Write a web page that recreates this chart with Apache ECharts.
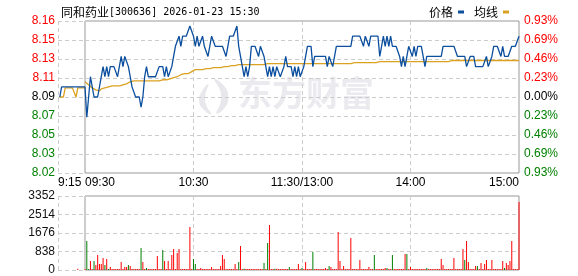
<!DOCTYPE html>
<html><head><meta charset="utf-8">
<script src="https://cdn.jsdelivr.net/npm/echarts@6/dist/echarts.min.js"></script>
<style>html,body{margin:0;padding:0;background:#fff}#c{width:578px;height:276px}</style>
</head><body><div id="c"></div>
<script>
// ---- data ----
const stockName = '同和药业';
const stockInfo = '[300636] 2026-01-23 15:30';
const seriesNames = ['价格', '均线'];
const priceTickLabels = ['8.02','8.03','8.05','8.07','8.09','8.11','8.13','8.15','8.16'];
const pctTickLabels = ['0.93%','0.69%','0.46%','0.23%','0.00%','0.23%','0.46%','0.69%','0.93%'];
const volTickLabels = ['0','838','1676','2514','3352'];
const timeTickLabels = ['09:30','10:30','11:30/13:00','14:00','15:00'];
const preTimeLabel = '9:15';
const watermarkText = '东方财富';

// pre-market 9:16 .. 9:30 (minute 1..15 after 9:15)
const prePrice = [8.09,8.10,8.10,8.10,8.10,8.10,8.10,8.10,8.10,8.10,8.10,8.10,8.10,8.10,8.10];
const preAvg   = [8.09,8.09,8.09,8.099,8.099,8.099,8.099,8.099,8.099,8.09,8.099,8.099,8.099,8.099,8.099];
const preVol   = [0,0,0,0,0,0,0,0,0,0,60,0,0,0,0];

// trading minutes 0..240 (09:30 .. 15:00, lunch removed)
const price = [
8.10,8.07,8.09,8.11,8.11,8.09,8.09,8.09,8.09,8.11,
8.12,8.11,8.12,8.11,8.12,8.12,8.12,8.12,8.11,8.12,
8.13,8.12,8.13,8.13,8.12,8.11,8.10,8.10,8.09,8.09,
8.09,8.08,8.09,8.11,8.12,8.11,8.11,8.11,8.11,8.11,
8.11,8.12,8.12,8.12,8.11,8.12,8.11,8.11,8.12,8.13,
8.14,8.14,8.15,8.14,8.15,8.15,8.15,8.15,8.16,8.16,
8.15,8.14,8.15,8.14,8.14,8.15,8.14,8.14,8.13,8.14,
8.15,8.15,8.14,8.14,8.14,8.14,8.14,8.14,8.13,8.14,
8.15,8.15,8.15,8.15,8.16,8.14,8.13,8.12,8.11,8.12,
8.11,8.12,8.14,8.14,8.14,8.14,8.13,8.14,8.14,8.13,
8.12,8.11,8.12,8.11,8.12,8.11,8.12,8.12,8.11,8.11,
8.12,8.13,8.12,8.12,8.12,8.11,8.12,8.11,8.12,8.11,
8.11,8.12,8.13,8.14,8.14,8.14,8.12,8.13,8.13,8.13,
8.13,8.13,8.13,8.13,8.12,8.13,8.13,8.12,8.13,8.14,
8.14,8.14,8.14,8.14,8.14,8.14,8.14,8.14,8.15,8.15,
8.15,8.15,8.15,8.15,8.14,8.15,8.15,8.14,8.15,8.15,
8.15,8.15,8.15,8.13,8.14,8.15,8.14,8.15,8.14,8.15,
8.14,8.14,8.14,8.14,8.13,8.12,8.13,8.12,8.13,8.14,
8.14,8.13,8.14,8.13,8.14,8.14,8.14,8.13,8.12,8.13,
8.13,8.13,8.13,8.13,8.13,8.13,8.13,8.13,8.14,8.14,
8.14,8.14,8.14,8.14,8.14,8.14,8.13,8.13,8.13,8.13,
8.13,8.12,8.12,8.13,8.13,8.13,8.12,8.12,8.12,8.12,
8.12,8.12,8.13,8.12,8.12,8.13,8.14,8.14,8.14,8.14,
8.13,8.14,8.13,8.13,8.13,8.13,8.14,8.14,8.14,8.14,
8.15];
const avgPrice = [
8.105,8.104,8.102,8.101,8.099,8.098,8.097,8.096,8.096,8.098,
8.099,8.099,8.100,8.100,8.101,8.101,8.101,8.101,8.101,8.101,
8.102,8.102,8.103,8.103,8.104,8.105,8.106,8.106,8.106,8.106,
8.106,8.106,8.106,8.106,8.106,8.106,8.106,8.106,8.106,8.106,
8.106,8.106,8.107,8.107,8.107,8.107,8.108,8.108,8.108,8.109,
8.109,8.110,8.111,8.112,8.113,8.113,8.113,8.113,8.114,8.115,
8.116,8.117,8.117,8.117,8.117,8.117,8.118,8.118,8.118,8.118,
8.118,8.119,8.119,8.119,8.119,8.119,8.120,8.120,8.120,8.120,
8.120,8.121,8.121,8.121,8.122,8.122,8.122,8.122,8.122,8.122,
8.122,8.122,8.122,8.122,8.122,8.122,8.122,8.122,8.122,8.122,
8.123,8.123,8.123,8.123,8.123,8.123,8.123,8.123,8.123,8.123,
8.123,8.123,8.123,8.123,8.123,8.123,8.123,8.123,8.123,8.123,
8.123,8.123,8.123,8.123,8.123,8.123,8.123,8.123,8.123,8.123,
8.123,8.123,8.123,8.123,8.123,8.123,8.123,8.123,8.123,8.123,
8.123,8.123,8.123,8.123,8.123,8.123,8.123,8.123,8.123,8.124,
8.124,8.124,8.124,8.124,8.124,8.124,8.124,8.124,8.124,8.124,
8.124,8.124,8.124,8.125,8.125,8.125,8.125,8.125,8.125,8.125,
8.125,8.125,8.125,8.125,8.125,8.125,8.125,8.125,8.125,8.125,
8.125,8.125,8.125,8.125,8.125,8.125,8.125,8.125,8.125,8.125,
8.125,8.125,8.125,8.125,8.125,8.125,8.125,8.125,8.125,8.125,
8.125,8.125,8.125,8.126,8.126,8.126,8.126,8.126,8.126,8.126,
8.126,8.126,8.126,8.126,8.126,8.126,8.126,8.126,8.126,8.126,
8.126,8.126,8.126,8.126,8.126,8.126,8.126,8.126,8.126,8.126,
8.126,8.126,8.126,8.126,8.126,8.126,8.126,8.126,8.126,8.126,
8.126];
const volume = [
40,1314,40,408,40,408,226,680,272,272,
544,226,498,45,136,40,40,40,40,40,
362,40,136,136,226,181,40,40,40,40,
40,997,362,40,90,40,40,40,40,40,
634,40,40,906,408,40,408,40,680,951,
40,770,951,40,40,40,40,40,1948,40,
498,272,40,40,90,40,40,40,40,40,
136,40,40,40,40,181,680,498,40,40,
40,40,40,272,40,362,1087,40,60,40,
40,40,40,40,40,40,40,40,40,317,
40,1223,2039,40,40,60,60,40,40,40,
40,40,40,136,40,40,40,40,272,40,
90,40,362,40,40,40,815,40,40,40,
40,40,40,90,40,181,136,40,40,40,
1721,408,40,181,40,40,40,1450,40,40,
40,40,453,40,40,40,40,136,40,40,
680,40,40,40,40,40,90,90,40,40,
680,40,40,40,40,40,40,725,725,40,
136,40,40,40,40,40,40,40,40,90,
40,40,40,40,40,40,40,498,226,40,
40,40,40,40,544,40,40,40,40,951,
453,1314,362,40,40,40,181,181,40,317,
40,272,453,40,40,453,40,40,40,40,
40,408,90,317,226,408,1314,40,40,40,
3080];
const downMinutes = [1,2,5,11,13,24,31,34,43,60,61,85,88,99,101,105,113,120,126,135,160,167,170,178,189,210,217,232];

// ---- chart ----
const BLUE = '#0b4f9e', GOLD = '#dba222', RED = '#ff0000', GREEN = '#008000';
const FONT = 'Liberation Sans';
const pMin = 8.015, pMax = 8.165, pInt = 0.01875;
const vMax = 3352, vInt = 838;
const split = {show:true, lineStyle:{color:'#cccccc', type:[4,3], width:1}};
function tickIdx(v, min, step){ return Math.round((v - min) / step); }
function sideColor(i){ return i < 4 ? 'g' : (i === 4 ? 'k' : 'r'); }
const richLab = {
  r:{color:RED, fontSize:12, fontFamily:FONT},
  g:{color:GREEN, fontSize:12, fontFamily:FONT},
  k:{color:'#000', fontSize:12, fontFamily:FONT}
};

const chart = echarts.init(document.getElementById('c'), null, {renderer:'canvas'});
chart.setOption({
  animation:false,
  backgroundColor:'#fff',
  title:{
    text:'{a|' + stockName + '}{b|' + stockInfo + '}',
    left:56, top:1,
    textStyle:{fontWeight:'normal', rich:{
      a:{fontFamily:'Noto Sans CJK SC', fontSize:12, color:'#000', fontWeight:'normal'},
      b:{fontFamily:'DejaVu Sans Mono', fontSize:10, color:'#000', fontWeight:'normal'}
    }}
  },
  legend:{
    data:seriesNames, right:64, top:1, icon:'rect', itemWidth:6, itemHeight:3,
    align:'right', itemGap:10,
    textStyle:{fontFamily:'Noto Sans CJK SC', fontSize:12, color:'#000', padding:[0,0,0,0]}
  },
  graphic:[
    {type:'group', left:199, top:79, z:-10, silent:true, children:[
      {type:'polygon', silent:true, shape:{smooth:0.5, points:[[17,0],[27,7],[31,18],[27,29],[19,34],[23,24],[23,12]]}, style:{fill:'#e8e8ec'}},
      {type:'polygon', silent:true, shape:{smooth:0.5, points:[[11,5],[4,13],[2,23],[7,31],[14,35],[9,26],[8,16]]}, style:{fill:'#e8e8ec'}}
    ]},
    {type:'text', left:238, top:76, z:-10, silent:true,
     style:{text:watermarkText, fontSize:34, fontWeight:'bold', fontFamily:'Noto Sans CJK SC', fill:'#ebebef'}}
  ],
  grid:[
    {left:58, top:21, width:27, height:152},
    {left:85, right:59, top:21, height:152, show:true, borderColor:'#999', borderWidth:1},
    {left:58, top:196, width:27, height:74},
    {left:85, right:59, top:196, height:74, show:true, borderColor:'#999', borderWidth:1}
  ],
  xAxis:[
    {gridIndex:0, type:'value', min:0, max:15, interval:15,
     axisLine:{show:false}, axisTick:{show:false}, splitLine:split,
     axisLabel:{show:true, margin:4, color:'#000', fontSize:12, fontFamily:FONT, alignMinLabel:'left',
       formatter:(v)=> v === 0 ? preTimeLabel : ''}},
    {gridIndex:1, type:'value', min:0, max:240, interval:60,
     axisLine:{show:false}, axisTick:{show:false}, splitLine:split,
     axisLabel:{show:true, margin:4, color:'#000', fontSize:12, fontFamily:FONT,
       alignMinLabel:'left', alignMaxLabel:'right', showMinLabel:true, showMaxLabel:true,
       formatter:(v)=> timeTickLabels[Math.round(v/60)]}},
    {gridIndex:2, type:'value', min:0, max:15, interval:15,
     axisLine:{show:false}, axisTick:{show:false}, splitLine:split, axisLabel:{show:false}},
    {gridIndex:3, type:'value', min:0, max:240, interval:60,
     axisLine:{show:false}, axisTick:{show:false}, splitLine:split, axisLabel:{show:false}}
  ],
  yAxis:[
    {gridIndex:0, type:'value', min:pMin, max:pMax, interval:pInt, position:'left',
     axisLine:{show:false}, axisTick:{show:false}, splitLine:split,
     axisLabel:{margin:3, rich:richLab,
       formatter:(v)=>{const i=tickIdx(v,pMin,pInt); return '{'+sideColor(i)+'|'+priceTickLabels[i]+'}';}}},
    {gridIndex:1, type:'value', min:pMin, max:pMax, interval:pInt, position:'right',
     axisLine:{show:false}, axisTick:{show:false}, splitLine:split,
     axisLabel:{margin:5, rich:richLab,
       formatter:(v)=>{const i=tickIdx(v,pMin,pInt); return '{'+sideColor(i)+'|'+pctTickLabels[i]+'}';}}},
    {gridIndex:2, type:'value', min:0, max:vMax, interval:vInt, position:'left',
     axisLine:{show:false}, axisTick:{show:false}, splitLine:split,
     axisLabel:{margin:3, color:'#111', fontSize:12, fontFamily:FONT,
       formatter:(v)=> volTickLabels[tickIdx(v,0,vInt)]}},
    {gridIndex:3, type:'value', min:0, max:vMax, interval:vInt, position:'right',
     axisLine:{show:false}, axisTick:{show:false}, splitLine:split, axisLabel:{show:false}}
  ],
  series:[
    {name:seriesNames[0], type:'line', xAxisIndex:0, yAxisIndex:0, symbol:'none', z:3,
     data:prePrice.map((v,i)=>[i+1,v]), lineStyle:{color:BLUE, width:1.3}, itemStyle:{color:BLUE}},
    {name:seriesNames[1], type:'line', xAxisIndex:0, yAxisIndex:0, symbol:'none', z:2,
     data:preAvg.map((v,i)=>[i+1,v]), lineStyle:{color:GOLD, width:1.3}, itemStyle:{color:GOLD}},
    {name:seriesNames[0], type:'line', xAxisIndex:1, yAxisIndex:1, symbol:'none', z:3,
     data:price.map((v,i)=>[i,v]), lineStyle:{color:BLUE, width:1.3}, itemStyle:{color:BLUE}},
    {name:seriesNames[1], type:'line', xAxisIndex:1, yAxisIndex:1, symbol:'none', z:2,
     data:avgPrice.map((v,i)=>[i,v]), lineStyle:{color:GOLD, width:1.3}, itemStyle:{color:GOLD}},
    {type:'bar', xAxisIndex:2, yAxisIndex:2, barWidth:1,
     data:preVol.map((v,i)=>({value:[i+1,v], itemStyle:{color:RED}}))},
    {type:'bar', xAxisIndex:3, yAxisIndex:3, barWidth:1,
     data:volume.map((v,i)=>({value:[i,v], itemStyle:{color: downMinutes.includes(i) ? GREEN : RED}}))}
  ]
});
</script></body></html>
